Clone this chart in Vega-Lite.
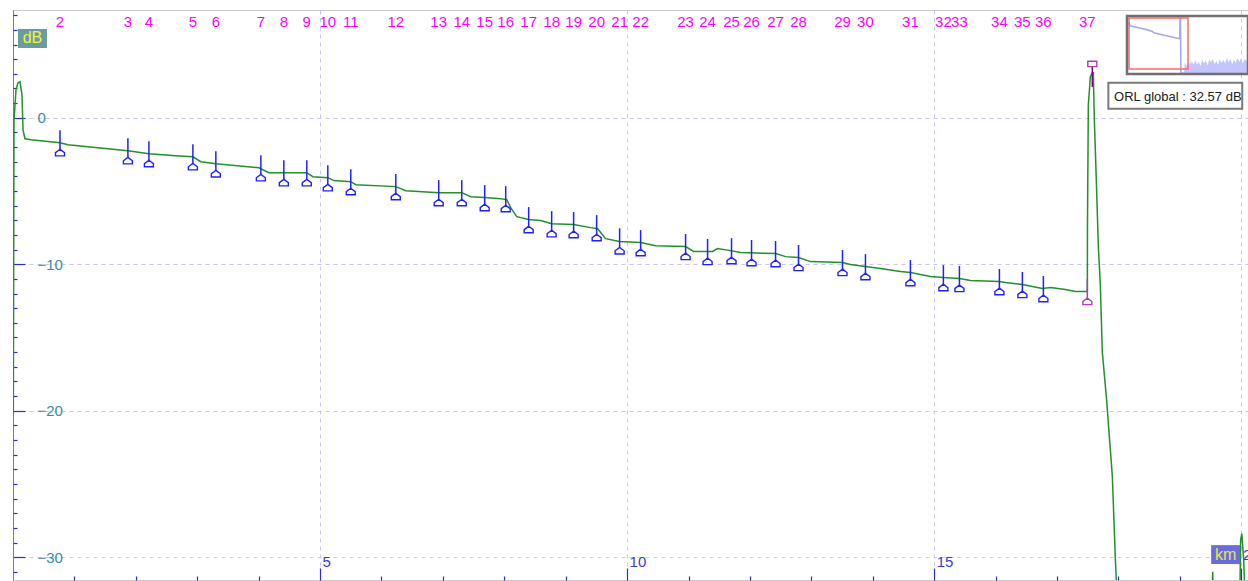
{
  "$schema": "https://vega.github.io/schema/vega-lite/v6.json",
  "width": 1248,
  "height": 581,
  "autosize": {"type": "fit", "contains": "padding"},
  "padding": {"left": 12, "top": 10, "right": 0, "bottom": 0},
  "background": "white",
  "config": {"view": {"stroke": "#c8c8c8", "strokeWidth": 1}, "font": "Liberation Sans"},
  "datasets": {
    "trace": [
      {"km": 0.005, "db": -20.2}, {"km": 0.016, "db": -0.2}, {"km": 0.049, "db": 1.91}, {"km": 0.081, "db": 2.39},
      {"km": 0.114, "db": 2.45}, {"km": 0.146, "db": 1.57}, {"km": 0.163, "db": -0.82}, {"km": 0.195, "db": -1.43},
      {"km": 0.293, "db": -1.5}, {"km": 0.765, "db": -1.7}, {"km": 0.895, "db": -1.84}, {"km": 1.871, "db": -2.25},
      {"km": 2.213, "db": -2.45}, {"km": 2.653, "db": -2.59}, {"km": 2.929, "db": -2.66}, {"km": 3.059, "db": -3.0},
      {"km": 3.303, "db": -3.14}, {"km": 4.003, "db": -3.41}, {"km": 4.166, "db": -3.75}, {"km": 4.784, "db": -3.75},
      {"km": 4.882, "db": -4.02}, {"km": 5.126, "db": -4.09}, {"km": 5.224, "db": -4.29}, {"km": 5.5, "db": -4.36},
      {"km": 5.582, "db": -4.57}, {"km": 6.233, "db": -4.7}, {"km": 6.396, "db": -4.98}, {"km": 6.932, "db": -5.11},
      {"km": 7.307, "db": -5.11}, {"km": 7.453, "db": -5.39}, {"km": 7.681, "db": -5.45}, {"km": 7.941, "db": -5.52},
      {"km": 8.039, "db": -5.59}, {"km": 8.104, "db": -6.13}, {"km": 8.202, "db": -6.75}, {"km": 8.397, "db": -6.95},
      {"km": 8.592, "db": -7.02}, {"km": 8.771, "db": -7.23}, {"km": 9.129, "db": -7.29}, {"km": 9.406, "db": -7.5},
      {"km": 9.52, "db": -7.57}, {"km": 9.65, "db": -8.25}, {"km": 9.878, "db": -8.45}, {"km": 10.22, "db": -8.52},
      {"km": 10.464, "db": -8.73}, {"km": 10.952, "db": -8.79}, {"km": 11.082, "db": -9.13}, {"km": 11.391, "db": -9.13},
      {"km": 11.473, "db": -8.93}, {"km": 11.684, "db": -9.07}, {"km": 11.847, "db": -9.2}, {"km": 12.417, "db": -9.27},
      {"km": 12.58, "db": -9.48}, {"km": 12.791, "db": -9.54}, {"km": 12.986, "db": -9.82}, {"km": 13.507, "db": -9.88},
      {"km": 13.637, "db": -10.02}, {"km": 13.881, "db": -10.16}, {"km": 14.125, "db": -10.29}, {"km": 14.451, "db": -10.5},
      {"km": 14.613, "db": -10.57}, {"km": 14.939, "db": -10.84}, {"km": 15.15, "db": -10.91}, {"km": 15.411, "db": -10.97},
      {"km": 15.59, "db": -11.11}, {"km": 16.062, "db": -11.18}, {"km": 16.16, "db": -11.25}, {"km": 16.436, "db": -11.38},
      {"km": 16.762, "db": -11.66}, {"km": 16.892, "db": -11.59}, {"km": 17.136, "db": -11.72}, {"km": 17.299, "db": -11.86},
      {"km": 17.494, "db": -11.86}, {"km": 17.496, "db": -7.5}, {"km": 17.51, "db": 0.89}, {"km": 17.543, "db": 2.79},
      {"km": 17.575, "db": 3.07}, {"km": 17.591, "db": 3.07}, {"km": 17.608, "db": -0.14}, {"km": 17.64, "db": -4.23},
      {"km": 17.673, "db": -8.79}, {"km": 17.705, "db": -11.38}, {"km": 17.738, "db": -16.02}, {"km": 17.803, "db": -19.02},
      {"km": 17.852, "db": -21.75}, {"km": 17.901, "db": -24.47}, {"km": 17.95, "db": -30.13}, {"km": 17.982, "db": -33.0},
      {"km": 19.52, "db": -33.5}, {"km": 19.535, "db": -31.0}, {"km": 19.55, "db": -33.5}, {"km": 19.975, "db": -33.5},
      {"km": 19.99, "db": -28.8}, {"km": 20.01, "db": -28.4}, {"km": 20.04, "db": -30.2}, {"km": 20.07, "db": -33.5}
    ],
    "events": [
      {"n": "2", "km": 0.765, "db": -1.7, "t": "e"},
      {"n": "3", "km": 1.871, "db": -2.25, "t": "e"},
      {"n": "4", "km": 2.213, "db": -2.45, "t": "e"},
      {"n": "5", "km": 2.929, "db": -2.66, "t": "e"},
      {"n": "6", "km": 3.303, "db": -3.14, "t": "e"},
      {"n": "7", "km": 4.036, "db": -3.41, "t": "e"},
      {"n": "8", "km": 4.41, "db": -3.75, "t": "e"},
      {"n": "9", "km": 4.784, "db": -3.75, "t": "e"},
      {"n": "10", "km": 5.126, "db": -4.09, "t": "e"},
      {"n": "11", "km": 5.5, "db": -4.36, "t": "e"},
      {"n": "12", "km": 6.233, "db": -4.7, "t": "e"},
      {"n": "13", "km": 6.932, "db": -5.11, "t": "e"},
      {"n": "14", "km": 7.307, "db": -5.11, "t": "e"},
      {"n": "15", "km": 7.681, "db": -5.45, "t": "e"},
      {"n": "16", "km": 8.023, "db": -5.52, "t": "e"},
      {"n": "17", "km": 8.397, "db": -6.95, "t": "e"},
      {"n": "18", "km": 8.771, "db": -7.23, "t": "e"},
      {"n": "19", "km": 9.129, "db": -7.29, "t": "e"},
      {"n": "20", "km": 9.504, "db": -7.5, "t": "e"},
      {"n": "21", "km": 9.878, "db": -8.4, "t": "e"},
      {"n": "22", "km": 10.22, "db": -8.52, "t": "e"},
      {"n": "23", "km": 10.952, "db": -8.79, "t": "e"},
      {"n": "24", "km": 11.31, "db": -9.13, "t": "e"},
      {"n": "25", "km": 11.7, "db": -9.07, "t": "e"},
      {"n": "26", "km": 12.026, "db": -9.2, "t": "e"},
      {"n": "27", "km": 12.417, "db": -9.27, "t": "e"},
      {"n": "28", "km": 12.791, "db": -9.54, "t": "e"},
      {"n": "29", "km": 13.507, "db": -9.88, "t": "e"},
      {"n": "30", "km": 13.881, "db": -10.16, "t": "e"},
      {"n": "31", "km": 14.613, "db": -10.57, "t": "e"},
      {"n": "32", "km": 15.15, "db": -10.91, "t": "e"},
      {"n": "33", "km": 15.411, "db": -10.97, "t": "e"},
      {"n": "34", "km": 16.062, "db": -11.18, "t": "e"},
      {"n": "35", "km": 16.436, "db": -11.38, "t": "e"},
      {"n": "36", "km": 16.778, "db": -11.66, "t": "e"},
      {"n": "37", "km": 17.494, "db": -11.86, "t": "end"}
    ],
    "peak": [{"km": 17.575, "db": 3.68}],
    "overview": [
      {"km": 0, "db": 2.5}, {"km": 0.3, "db": -0.5}, {"km": 4, "db": -2.5}, {"km": 6, "db": -3.6},
      {"km": 8, "db": -5.0}, {"km": 8.4, "db": -6.2}, {"km": 12, "db": -8.2}, {"km": 15, "db": -9.8},
      {"km": 17.3, "db": -11.0}, {"km": 17.4, "db": 5.8}, {"km": 17.55, "db": 5.8}, {"km": 17.7, "db": -38.6}
    ],
    "noise": [
      {"km": 17.7, "db": -38.6}, {"km": 18.8, "db": -37.5}, {"km": 19.0, "db": -30}, {"km": 19.6, "db": -33},
      {"km": 20.2, "db": -29.5}, {"km": 20.8, "db": -32}, {"km": 21.4, "db": -29}, {"km": 22.0, "db": -32},
      {"km": 22.6, "db": -28.5}, {"km": 23.2, "db": -31.5}, {"km": 23.8, "db": -29.5}, {"km": 24.4, "db": -33},
      {"km": 25.0, "db": -28}, {"km": 25.6, "db": -31}, {"km": 26.2, "db": -28.5}, {"km": 26.8, "db": -32.5},
      {"km": 27.4, "db": -27.5}, {"km": 28.0, "db": -30}, {"km": 28.6, "db": -27}, {"km": 29.2, "db": -31.5},
      {"km": 29.8, "db": -29}, {"km": 30.4, "db": -32}, {"km": 31.0, "db": -27.5}, {"km": 31.6, "db": -30.5},
      {"km": 32.2, "db": -28}, {"km": 32.8, "db": -31}, {"km": 33.4, "db": -26.5}, {"km": 34.0, "db": -30},
      {"km": 34.6, "db": -27}, {"km": 35.2, "db": -31.5}, {"km": 35.8, "db": -28}, {"km": 36.4, "db": -30.5},
      {"km": 37.0, "db": -26.5}, {"km": 37.6, "db": -29.5}, {"km": 38.2, "db": -27}, {"km": 38.8, "db": -31},
      {"km": 39.4, "db": -27.5}, {"km": 40.0, "db": -29}, {"km": 40.6, "db": -27}
    ],
    "one": [{}]
  },
  "layer": [
    {
      "layer": [
        {
          "data": {"name": "trace"},
          "mark": {"type": "line", "color": "#23902a", "strokeWidth": 1.5, "clip": true},
          "encoding": {
            "x": {
              "field": "km", "type": "quantitative",
              "scale": {"domain": [0, 20.11], "nice": false, "zero": false},
              "axis": {
                "orient": "bottom", "title": null, "domain": false,
                "values": [5, 10, 15, 20],
                "tickColor": "#2b2bd0", "tickWidth": 1.2, "tickSize": -12,
                "grid": true, "gridDash": [4, 4], "gridWidth": 1, "gridColor": "#c8c8f8",
                "labelExpr": "datum.value < 20 ? datum.label : ''",
                "labelAlign": "left", "labelBaseline": "middle", "labelPadding": -7, "labelOffset": 2,
                "labelColor": "#3a3acc", "labelFont": "Liberation Sans", "labelFontSize": 15,
                "labelOverlap": false, "labelFlush": false, "labelBound": false
              }
            },
            "y": {
              "field": "db", "type": "quantitative",
              "scale": {"domain": [-31.56, 7.36], "nice": false, "zero": false},
              "axis": {
                "orient": "left", "title": null, "domain": true, "domainColor": "#808080",
                "values": [-30, -20, -10, 0],
                "tickColor": "#2b2bd0", "tickWidth": 1.2, "tickSize": -12,
                "grid": true, "gridDash": [4, 4], "gridWidth": 1, "gridColor": "#c8c8f8",
                "labelAlign": "left", "labelBaseline": "middle", "labelPadding": -12,
                "labelColor": "#3a8c9c", "labelFont": "Liberation Sans", "labelFontSize": 15,
                "labelOverlap": false, "labelFlush": false, "labelBound": false
              }
            }
          }
        },
        {
          "data": {"name": "events"},
          "mark": {"type": "rule", "strokeWidth": 1.5, "yOffset": -12.5, "y2Offset": 7},
          "encoding": {
            "x": {
              "field": "km", "type": "quantitative",
              "axis": {
                "orient": "bottom", "title": null, "domain": false, "grid": false, "labels": false,
                "values": [1, 2, 3, 4, 6, 7, 8, 9, 11, 12, 13, 14, 16, 17, 18, 19],
                "tickColor": "#2b2bd0", "tickWidth": 1.2, "tickSize": -4
              }
            },
            "y": {
              "field": "db", "type": "quantitative",
              "axis": {
                "orient": "left", "title": null, "domain": false, "grid": false, "labels": false,
                "values": [-31, -29, -28, -27, -26, -25, -24, -23, -22, -21, -19, -18, -17, -16, -15, -14, -13, -12, -11, -9, -8, -7, -6, -5, -4, -3, -2, -1, 1, 2, 3, 4, 5, 6, 7],
                "tickColor": "#2b2bd0", "tickWidth": 1.2, "tickSize": -4
              }
            },
            "y2": {"field": "db"},
            "color": {"field": "t", "type": "nominal", "scale": {"domain": ["e", "end"], "range": ["#2020ff", "#b03cb0"]}, "legend": null}
          }
        },
        {
          "data": {"name": "events"},
          "mark": {"type": "point", "shape": "M0,-0.75L1,0L1,0.7L-1,0.7L-1,0Z", "size": 81, "fill": "white", "filled": false, "strokeWidth": 1.4, "opacity": 1, "yOffset": 10},
          "encoding": {
            "x": {"field": "km", "type": "quantitative", "axis": null},
            "y": {"field": "db", "type": "quantitative", "axis": null},
            "stroke": {"field": "t", "type": "nominal", "scale": {"domain": ["e", "end"], "range": ["#2020ff", "#b03cb0"]}, "legend": null}
          }
        },
        {
          "data": {"name": "events"},
          "mark": {"type": "text", "color": "#ff00ff", "font": "Liberation Sans", "fontSize": 15, "align": "center", "baseline": "middle"},
          "encoding": {
            "x": {"field": "km", "type": "quantitative", "axis": null},
            "y": {"datum": 6.55, "type": "quantitative", "axis": null},
            "text": {"field": "n"}
          }
        },
        {
          "data": {"name": "peak"},
          "mark": {"type": "rule", "color": "#800080", "strokeWidth": 1.5, "yOffset": 3, "y2Offset": 23},
          "encoding": {
            "x": {"field": "km", "type": "quantitative", "axis": null},
            "y": {"field": "db", "type": "quantitative", "axis": null},
            "y2": {"field": "db"}
          }
        },
        {
          "data": {"name": "peak"},
          "mark": {"type": "point", "shape": "M-1,-0.6L1,-0.6L1,0.6L-1,0.6Z", "size": 81, "fill": "white", "stroke": "#b03cb0", "filled": false, "strokeWidth": 1.4, "opacity": 1},
          "encoding": {
            "x": {"field": "km", "type": "quantitative", "axis": null},
            "y": {"field": "db", "type": "quantitative", "axis": null}
          }
        },
        {
          "data": {"name": "one"},
          "mark": {"type": "rect", "fill": "#6a9c9c"},
          "encoding": {
            "x": {"datum": 0.081, "type": "quantitative", "axis": null},
            "x2": {"datum": 0.553},
            "y": {"datum": 6.07, "type": "quantitative", "axis": null},
            "y2": {"datum": 4.77}
          }
        },
        {
          "data": {"name": "one"},
          "mark": {"type": "text", "text": "dB", "color": "#f2f04a", "font": "Liberation Sans", "fontSize": 16, "align": "center", "baseline": "middle"},
          "encoding": {
            "x": {"datum": 0.317, "type": "quantitative", "axis": null},
            "y": {"datum": 5.42, "type": "quantitative", "axis": null}
          }
        },
        {
          "data": {"name": "one"},
          "mark": {"type": "rect", "fill": "#6b6be0"},
          "encoding": {
            "x": {"datum": 19.51, "type": "quantitative", "axis": null},
            "x2": {"datum": 19.98},
            "y": {"datum": -29.18, "type": "quantitative", "axis": null},
            "y2": {"datum": -30.47}
          }
        },
        {
          "data": {"name": "one"},
          "mark": {"type": "text", "text": "km", "color": "#e6e64a", "font": "Liberation Sans", "fontSize": 16, "align": "center", "baseline": "middle"},
          "encoding": {
            "x": {"datum": 19.745, "type": "quantitative", "axis": null},
            "y": {"datum": -29.85, "type": "quantitative", "axis": null}
          }
        },
        {
          "data": {"name": "one"},
          "mark": {"type": "text", "text": "20", "color": "#3a3acc", "font": "Liberation Sans", "fontSize": 15, "align": "left", "baseline": "middle", "clip": true},
          "encoding": {
            "x": {"datum": 20.03, "type": "quantitative", "axis": null},
            "y": {"datum": -29.85, "type": "quantitative", "axis": null}
          }
        },
        {
          "data": {"name": "one"},
          "mark": {"type": "rect", "fill": "white", "stroke": "#7a7a7a", "strokeWidth": 2},
          "encoding": {
            "x": {"datum": 17.836, "type": "quantitative", "axis": null},
            "x2": {"datum": 20.016},
            "y": {"datum": 2.386, "type": "quantitative", "axis": null},
            "y2": {"datum": 0.613}
          }
        },
        {
          "data": {"name": "one"},
          "mark": {"type": "text", "text": "ORL global : 32.57 dB", "color": "#202020", "font": "Liberation Sans", "fontSize": 13, "align": "left", "baseline": "middle"},
          "encoding": {
            "x": {"datum": 17.93, "type": "quantitative", "axis": null},
            "y": {"datum": 1.45, "type": "quantitative", "axis": null}
          }
        }
      ],
      "resolve": {"axis": {"x": "independent", "y": "independent"}}
    },
    {
      "layer": [
        {
          "data": {"name": "noise"},
          "mark": {"type": "area", "color": "#c4c4ff", "opacity": 1},
          "encoding": {
            "x": {"field": "km", "type": "quantitative", "scale": {"domain": [-0.7, 40.6], "range": [1114, 1235], "nice": false, "zero": false}, "axis": null},
            "y": {"field": "db", "type": "quantitative", "scale": {"domain": [-39.4, 7.4], "range": [64, 6], "nice": false, "zero": false}, "axis": null},
            "y2": {"datum": -39.4}
          }
        },
        {
          "data": {"name": "overview"},
          "mark": {"type": "line", "color": "#a8a8f0", "strokeWidth": 1.6},
          "encoding": {
            "x": {"field": "km", "type": "quantitative", "axis": null},
            "y": {"field": "db", "type": "quantitative", "axis": null}
          }
        },
        {
          "data": {"name": "one"},
          "mark": {"type": "rect", "fill": "transparent", "stroke": "#ff6a6a", "strokeWidth": 1.5},
          "encoding": {
            "x": {"datum": 0, "type": "quantitative", "axis": null},
            "x2": {"datum": 20.11},
            "y": {"datum": 5.8, "type": "quantitative", "axis": null},
            "y2": {"datum": -35.3}
          }
        },
        {
          "data": {"name": "one"},
          "mark": {"type": "rect", "fill": "transparent", "stroke": "#707070", "strokeWidth": 2.5},
          "encoding": {
            "x": {"datum": -0.7, "type": "quantitative", "axis": null},
            "x2": {"datum": 40.6},
            "y": {"datum": 7.4, "type": "quantitative", "axis": null},
            "y2": {"datum": -39.4}
          }
        }
      ]
    }
  ],
  "resolve": {"scale": {"x": "independent", "y": "independent"}}
}
